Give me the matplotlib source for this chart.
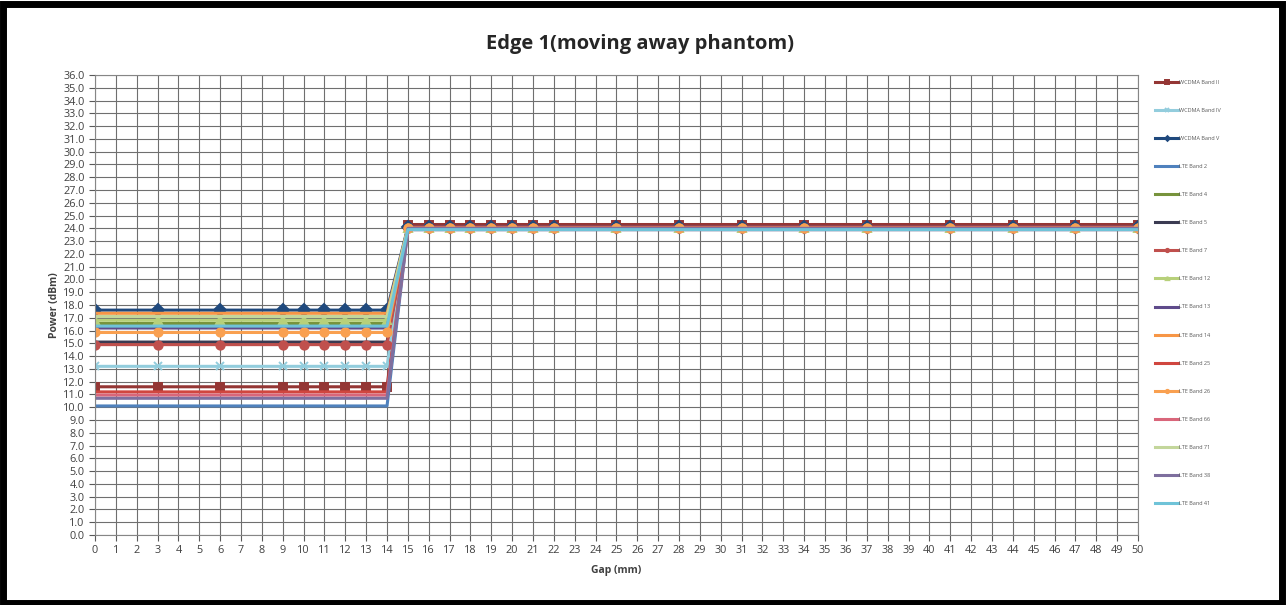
import numpy as np
import matplotlib.pyplot as plt
from matplotlib.patches import Rectangle

plt.rcParams['font.family'] = ['Open Sans', 'DejaVu Sans']

# gap positions (mm)
gap = [0, 3, 6, 9, 10, 11, 12, 13, 14, 15, 16, 17, 18, 19, 20, 21, 22,
       25, 28, 31, 34, 37, 41, 44, 47, 50]

bands = ['WCDMA Band II', 'WCDMA Band IV', 'WCDMA Band V', 'LTE Band 2',
         'LTE Band 4', 'LTE Band 5', 'LTE Band 7', 'LTE Band 12',
         'LTE Band 13', 'LTE Band 14', 'LTE Band 25', 'LTE Band 26',
         'LTE Band 66', 'LTE Band 71', 'LTE Band 38', 'LTE Band 41']

# reduced power (gap 0..14) and full power (gap 15..50), dBm
low_power = [11.6, 13.2, 17.6, 10.1, 16.55, 15.1, 14.9, 16.8,
             16.2, 17.35, 11.2, 15.85, 10.95, 17.1, 10.7, 16.35]
high_power = [24.3, 24.0, 24.1, 23.9, 24.0, 24.1, 24.0, 24.0,
              24.1, 24.0, 24.1, 24.0, 23.9, 24.0, 24.0, 23.9]

colors = ['#943634', '#93CDDD', '#1F497D', '#4F81BD', '#77933C', '#3B3B52',
          '#C0504D', '#B7D07A', '#5F4B8B', '#F79646', '#D0463F', '#F9A050',
          '#D9667A', '#C3D69B', '#7E6F9E', '#6FC3D8']
markers = ['s', 'x', 'D', None, None, None, 'o', '^',
           None, None, None, 'o', None, None, None, None]

fig = plt.figure(figsize=(12.87, 6.05), dpi=100)
ax = fig.add_axes([0.0738, 0.1157, 0.8104, 0.7603])

for i, name in enumerate(bands):
    y = [low_power[i] if g <= 14 else high_power[i] for g in gap]
    ax.plot(gap, y, color=colors[i], lw=2.2, marker=markers[i], ms=6,
            mew=1.4, label=name)

ax.set_xlim(0, 50)
ax.set_ylim(0, 36)
ax.set_xticks(np.arange(0, 51, 1))
ax.set_yticks(np.arange(0, 37, 1))
ax.set_yticklabels(['%.1f' % v for v in np.arange(0, 37, 1)])
ax.tick_params(axis='both', labelsize=7.8, colors='#595959', length=4,
               direction='out', labelcolor='#404040')
ax.grid(True, color='#6f6f6f', lw=0.8)
ax.set_axisbelow(True)
for s in ax.spines.values():
    s.set_color('#868686')

ax.set_xlabel('Gap (mm)', fontsize=7.5, fontweight='bold', color='#404040',
              labelpad=6)
ax.set_ylabel('Power (dBm)', fontsize=7.5, fontweight='bold', color='#404040',
              labelpad=2)
fig.text(0.497, 0.928, 'Edge 1(moving away phantom)', ha='center',
         va='center', fontsize=14.5, fontweight='bold', color='#262626')

ax.legend(loc='upper left', bbox_to_anchor=(1.012, 1.0), frameon=False,
          fontsize=4, labelspacing=4.15, handlelength=4, handletextpad=0.2,
          markerscale=0.4, labelcolor='#595959')

fig.patches.append(Rectangle((0.002, 0.004), 0.994, 0.99, fill=False,
                             edgecolor='black', lw=5,
                             transform=fig.transFigure))

fig.savefig('out.png', dpi=100)
